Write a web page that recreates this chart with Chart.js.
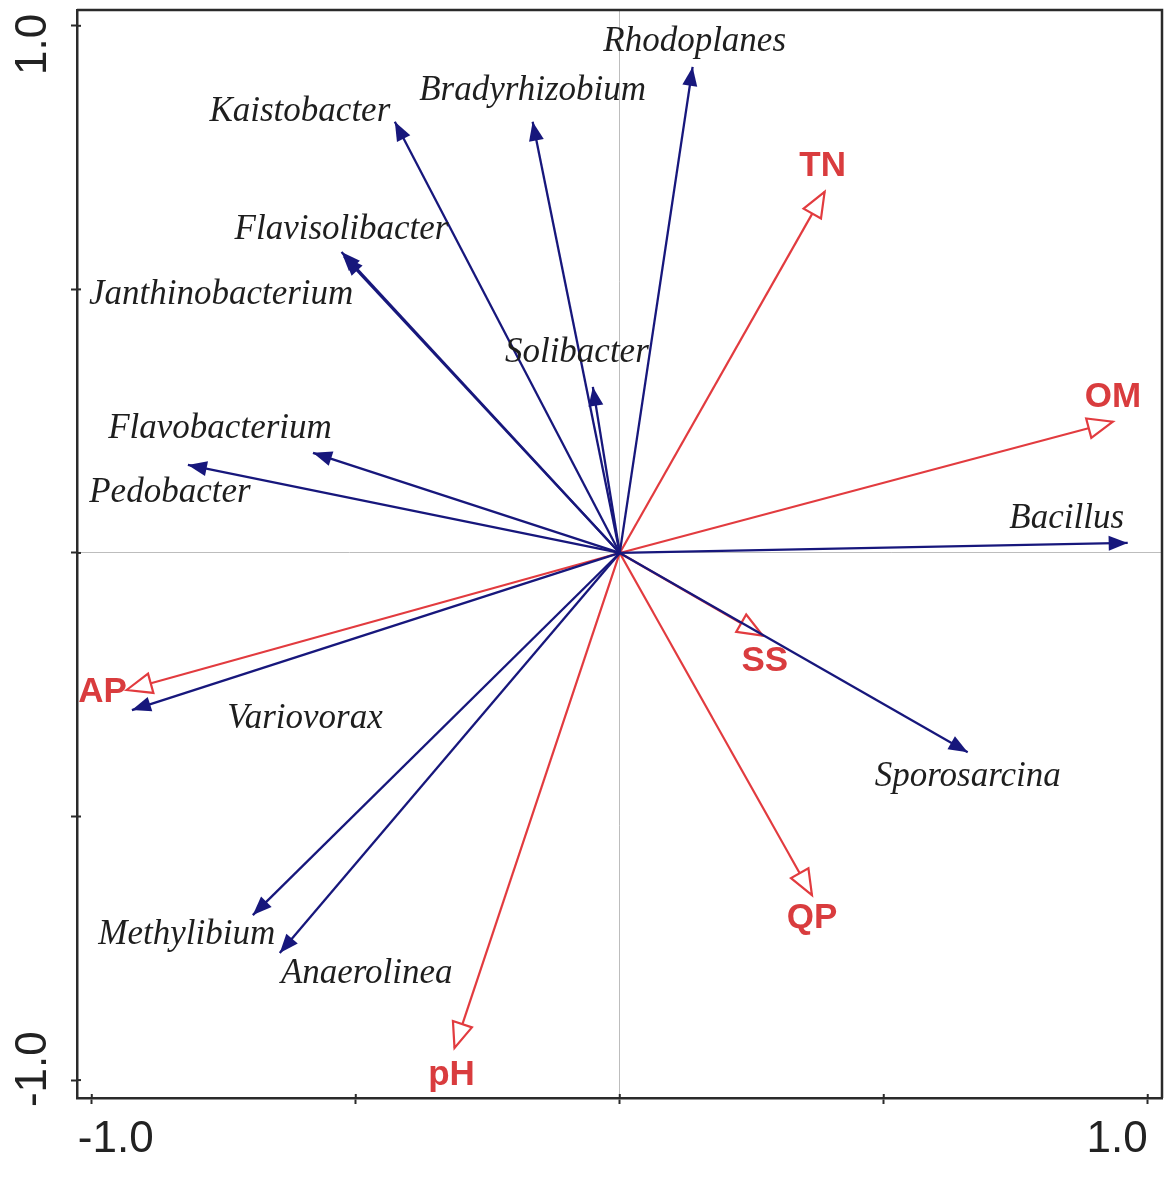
<!DOCTYPE html>
<html>
<head>
<meta charset="utf-8">
<script src="https://cdn.jsdelivr.net/npm/chart.js@4/dist/chart.umd.min.js"></script>
<style>
html,body{margin:0;padding:0;background:#fff;}
#wrap{width:1169px;height:1197px;}
</style>
</head>
<body>
<div id="wrap"><canvas id="c" width="1169" height="1197"></canvas></div>
<script>
// ---- data ----
const speciesNames = ['Rhodoplanes','Bradyrhizobium','Kaistobacter','Flavisolibacter','Janthinobacterium','Solibacter','Flavobacterium','Pedobacter','Bacillus','Sporosarcina','Variovorax','Methylibium','Anaerolinea'];
const speciesX = [0.138, -0.165, -0.426, -0.527, -0.522, -0.051, -0.581, -0.818, 0.962, 0.659, -0.924, -0.695, -0.644];
const speciesY = [0.922, 0.818, 0.818, 0.571, 0.562, 0.315, 0.190, 0.167, 0.019, -0.378, -0.298, -0.687, -0.759];

const envNames = ['TN','OM','SS','QP','pH','AP'];
const envX = [0.388, 0.934, 0.271, 0.364, -0.313, -0.934];
const envY = [0.685, 0.249, -0.157, -0.649, -0.939, -0.260];

const axisTicks = [-1, -0.5, 0, 0.5, 1];
const xTickLabels = ['-1.0', '', '', '', '1.0'];
const yTickLabels = ['-1.0', '', '', '', '1.0'];

// ---- layout (pixel offsets of labels from arrow tips) ----
const speciesLabelOffset = [[2,-25],[0,-31],[-95,-10],[0,-22],[-123,38],[-16,-34],[-93,-24],[-18,28],[-61,-24],[0,25],[173,9],[-66,20],[87,21]];
const envLabelOffset = [[-2,-26],[0,-24],[2,26],[0,23],[-3,27],[-24,2]];

const NAVY = '#17177c';
const RED = '#e23b3f';
const RED_TEXT = '#d93c3e';

const datasets = [];
speciesNames.forEach((n,i)=>{
  datasets.push({label:n, kind:'sp', idx:i, data:[{x:0,y:0},{x:speciesX[i],y:speciesY[i]}],
    showLine:true, borderColor:NAVY, borderWidth:2.3, pointRadius:0, fill:false});
});
envNames.forEach((n,i)=>{
  datasets.push({label:n, kind:'env', idx:i, data:[{x:0,y:0},{x:envX[i],y:envY[i]}],
    showLine:true, borderColor:RED, borderWidth:2.2, pointRadius:0, fill:false});
});

function headPoints(x0,y0,x1,y1,len,hw){
  const a = Math.atan2(y1-y0,x1-x0);
  const bx = x1 - len*Math.cos(a), by = y1 - len*Math.sin(a);
  const nx = -Math.sin(a), ny = Math.cos(a);
  return [[x1,y1],[bx+hw*nx,by+hw*ny],[bx-hw*nx,by-hw*ny]];
}

const arrowPlugin = {
  id:'arrows',
  afterDatasetDraw(chart, args){
    const ds = chart.data.datasets[args.index];
    const xs = chart.scales.x, ys = chart.scales.y;
    const ctx = chart.ctx;
    const x0 = xs.getPixelForValue(0), y0 = ys.getPixelForValue(0);
    const x1 = xs.getPixelForValue(ds.data[1].x), y1 = ys.getPixelForValue(ds.data[1].y);
    ctx.save();
    if (ds.kind==='sp'){
      const p = headPoints(x0,y0,x1,y1,19,7.5);
      ctx.beginPath(); ctx.moveTo(p[0][0],p[0][1]); ctx.lineTo(p[1][0],p[1][1]); ctx.lineTo(p[2][0],p[2][1]); ctx.closePath();
      ctx.fillStyle = NAVY; ctx.fill();
    } else {
      const p = headPoints(x0,y0,x1,y1,25,10);
      ctx.beginPath(); ctx.moveTo(p[0][0],p[0][1]); ctx.lineTo(p[1][0],p[1][1]); ctx.lineTo(p[2][0],p[2][1]); ctx.closePath();
      ctx.fillStyle = '#fff'; ctx.fill();
      ctx.strokeStyle = RED; ctx.lineWidth = 2.2; ctx.lineJoin='miter'; ctx.stroke();
    }
    ctx.restore();
  },
  afterDraw(chart){
    const ctx = chart.ctx;
    const xs = chart.scales.x, ys = chart.scales.y;
    const a = chart.chartArea;
    ctx.save();
    // frame top & right
    ctx.strokeStyle = '#2a2a2a'; ctx.lineWidth = 2.5;
    ctx.beginPath();
    ctx.moveTo(a.left, a.top); ctx.lineTo(a.right, a.top); ctx.lineTo(a.right, a.bottom);
    ctx.stroke();
    // inward tick parts
    ctx.lineWidth = 2;
    axisTicks.forEach(v=>{
      const px = xs.getPixelForValue(v);
      ctx.beginPath(); ctx.moveTo(px, a.bottom); ctx.lineTo(px, a.bottom-4); ctx.stroke();
      const py = ys.getPixelForValue(v);
      ctx.beginPath(); ctx.moveTo(a.left, py); ctx.lineTo(a.left+4, py); ctx.stroke();
    });
    // tick labels
    ctx.fillStyle = '#222';
    ctx.font = '44px "Liberation Sans", Arial, sans-serif';
    ctx.textBaseline = 'middle';
    axisTicks.forEach((v,i)=>{
      const t = xTickLabels[i];
      if (!t) return;
      const px = xs.getPixelForValue(v);
      ctx.textAlign = v < 0 ? 'left' : 'right';
      ctx.fillText(t, v < 0 ? px-14 : px, 1140);
    });
    axisTicks.forEach((v,i)=>{
      const t = yTickLabels[i];
      if (!t) return;
      const py = ys.getPixelForValue(v);
      ctx.save();
      ctx.translate(34, py);
      ctx.rotate(-Math.PI/2);
      ctx.textAlign = v > 0 ? 'right' : 'left';
      ctx.fillText(t, v > 0 ? 12 : -27, 0);
      ctx.restore();
    });
    // species labels
    ctx.textAlign = 'center';
    ctx.fillStyle = '#1e1e1e';
    ctx.font = 'italic 35px "Liberation Serif", "Times New Roman", serif';
    speciesNames.forEach((n,i)=>{
      const px = xs.getPixelForValue(speciesX[i]) + speciesLabelOffset[i][0];
      const py = ys.getPixelForValue(speciesY[i]) + speciesLabelOffset[i][1];
      ctx.fillText(n, px, py);
    });
    // env labels
    ctx.fillStyle = RED_TEXT;
    ctx.font = 'bold 35px "Liberation Sans", Arial, sans-serif';
    envNames.forEach((n,i)=>{
      const px = xs.getPixelForValue(envX[i]) + envLabelOffset[i][0];
      const py = ys.getPixelForValue(envY[i]) + envLabelOffset[i][1];
      ctx.fillText(n, px, py);
    });
    ctx.restore();
  }
};

const gridOpts = {
  display:true,
  drawOnChartArea:true,
  drawTicks:true,
  tickLength:6,
  tickColor:'#2a2a2a',
  tickWidth:2,
  color: c => (c.tick && c.tick.value === 0) ? '#bdbdbd' : 'rgba(0,0,0,0)',
  lineWidth: 1
};

new Chart(document.getElementById('c'), {
  type:'scatter',
  data:{datasets},
  plugins:[arrowPlugin],
  options:{
    responsive:false,
    animation:false,
    events:[],
    layout:{padding:{top:10,right:7,left:0,bottom:0}},
    plugins:{legend:{display:false}, tooltip:{enabled:false}},
    scales:{
      x:{
        type:'linear', min:-1.028, max:1.027,
        afterBuildTicks: s => { s.ticks = axisTicks.map(v=>({value:v})); },
        afterFit: s => { s.height = 99; },
        ticks:{display:false},
        grid:gridOpts,
        border:{display:true,color:'#2a2a2a',width:2.5}
      },
      y:{
        type:'linear', min:-1.034, max:1.030,
        afterBuildTicks: s => { s.ticks = axisTicks.map(v=>({value:v})); },
        afterFit: s => { s.width = 77; },
        ticks:{display:false},
        grid:gridOpts,
        border:{display:true,color:'#2a2a2a',width:2.5}
      }
    }
  }
});
</script>
</body>
</html>
